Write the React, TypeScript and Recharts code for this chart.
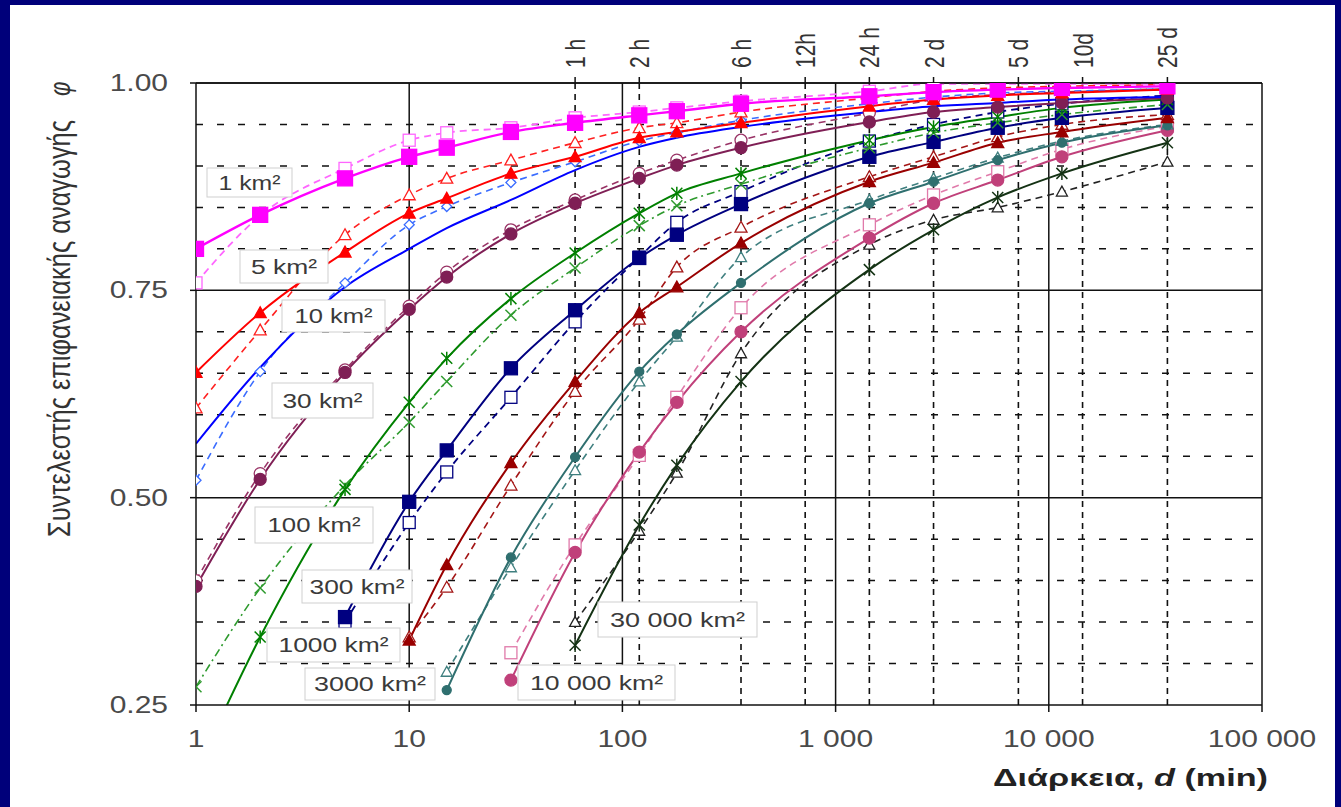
import React from "react";
import { LineChart, Line, XAxis, YAxis, ReferenceLine } from "recharts";

// durations (min) at which the curves are sampled
const DURATIONS = [1, 2, 5, 10, 15, 30, 60, 120, 180, 360, 1440, 2880, 5760, 11520, 36000];

// areal reduction factor phi — solid curves (filled markers) and dashed curves (open markers)
const A1       = [0.800, 0.841, 0.885, 0.911, 0.922, 0.941, 0.952, 0.961, 0.966, 0.975, 0.984, 0.989, 0.992, 0.994, 0.996];
const A1_D     = [0.759, 0.840, 0.897, 0.931, 0.940, 0.946, 0.958, 0.965, 0.970, 0.978, 0.990, 0.999, 0.999, 0.999, 0.999];
const A5       = [0.651, 0.723, 0.796, 0.843, 0.861, 0.891, 0.911, 0.934, 0.941, 0.952, 0.972, 0.980, 0.985, 0.988, 0.992];
const A5_D     = [0.608, 0.702, 0.817, 0.865, 0.885, 0.907, 0.928, 0.946, 0.952, 0.965, 0.982, 0.990, 0.994, 0.996, 0.998];
const A10      = [0.565, 0.657, 0.754, 0.800, 0.825, 0.859, 0.895, 0.923, 0.934, 0.947, 0.965, 0.972, 0.976, 0.980, 0.983];
const A10_D    = [0.521, 0.652, 0.759, 0.829, 0.851, 0.880, 0.905, 0.930, 0.940, 0.955, 0.975, 0.983, 0.988, 0.990, 0.993];
const A30      = [0.393, 0.522, 0.651, 0.727, 0.766, 0.818, 0.855, 0.885, 0.901, 0.922, 0.953, 0.965, 0.971, 0.976, 0.982];
const A30_D    = [0.400, 0.529, 0.654, 0.731, 0.772, 0.823, 0.859, 0.891, 0.907, 0.931, 0.964, 0.980, 0.986, 0.989, 0.993];
const A100     = [0.170, 0.332, 0.510, 0.615, 0.668, 0.740, 0.795, 0.843, 0.867, 0.891, 0.931, 0.947, 0.959, 0.970, 0.980];
const A100_D   = [0.272, 0.391, 0.515, 0.591, 0.640, 0.720, 0.777, 0.828, 0.852, 0.878, 0.922, 0.940, 0.952, 0.962, 0.974];
const A300     = [null, null, 0.356, 0.495, 0.557, 0.656, 0.726, 0.789, 0.817, 0.854, 0.911, 0.929, 0.946, 0.958, 0.970];
const A300_D   = [null, null, 0.350, 0.470, 0.531, 0.621, 0.712, 0.790, 0.832, 0.869, 0.930, 0.950, 0.965, 0.975, 0.985];
const A1000    = [null, null, null, 0.328, 0.419, 0.542, 0.640, 0.723, 0.754, 0.807, 0.881, 0.904, 0.928, 0.941, 0.958];
const A1000_D  = [null, null, null, 0.332, 0.392, 0.515, 0.628, 0.715, 0.778, 0.826, 0.887, 0.911, 0.935, 0.950, 0.962];
const A3000    = [null, null, null, null, 0.268, 0.428, 0.549, 0.652, 0.697, 0.759, 0.855, 0.881, 0.907, 0.928, 0.949];
const A3000_D  = [null, null, null, null, 0.290, 0.416, 0.533, 0.640, 0.694, 0.790, 0.859, 0.885, 0.910, 0.930, 0.950];
const A10000   = [null, null, null, null, null, 0.280, 0.434, 0.555, 0.615, 0.700, 0.813, 0.855, 0.883, 0.911, 0.943];
const A10000_D = [null, null, null, null, null, 0.313, 0.443, 0.551, 0.621, 0.729, 0.829, 0.865, 0.893, 0.920, 0.948];
const A30000   = [null, null, null, null, null, null, 0.322, 0.467, 0.539, 0.640, 0.775, 0.823, 0.862, 0.891, 0.928];
const A30000_D = [null, null, null, null, null, null, 0.350, 0.460, 0.530, 0.674, 0.805, 0.835, 0.850, 0.869, 0.905];

// axes
const X_TICKS = [1, 10, 100, 1000, 10000, 100000];
const X_TICK_LABELS = ["1", "10", "100", "1 000", "10 000", "100 000"];
const Y_TICKS = [0.25, 0.5, 0.75, 1.0];
const Y_TICK_LABELS = ["0.25", "0.50", "0.75", "1.00"];
const Y_MINOR = [0.3, 0.35, 0.4, 0.45, 0.55, 0.6, 0.65, 0.7, 0.8, 0.85, 0.9, 0.95];
const X_MAJOR = [10, 100, 1000, 10000, 100000];
const TIME_MARKS = [60, 120, 360, 720, 1440, 2880, 7200, 14400, 36000];
const TIME_LABELS = ["1 h", "2 h", "6 h", "12h", "24 h", "2 d", "5 d", "10d", "25 d"];

const AREA_LABELS = ["1 km²", "5 km²", "10 km²", "30 km²", "100 km²", "300 km²", "1000 km²", "3000 km²", "10 000 km²", "30 000 km²"];

// label box layout in page pixels: x, y, w, h, text width
const LABEL_BOXES = [
  [207, 168, 85, 29, 62],
  [240, 250, 88, 33, 66],
  [282, 300, 103, 32, 78],
  [272, 383, 101, 35, 80],
  [255, 507, 118, 36, 93],
  [302, 570, 110, 33, 95],
  [267, 628, 133, 34, 110],
  [305, 668, 130, 32, 112],
  [518, 665, 157, 35, 133],
  [598, 602, 159, 35, 135],
];

const W = 1341;
const H = 807;
const PLOT = { left: 196, top: 83, right: 1262, bottom: 705 };
const FONT = "'Liberation Sans', Arial, sans-serif";

type Shape = "square" | "triangle" | "diamond" | "circle" | "cross" | "star" | "none";

interface SeriesDef {
  key: string;
  values: (number | null)[];
  color: string;
  dash?: string;
  shape: Shape;
  filled: boolean;
  size: number;
  width: number;
}

const SERIES: SeriesDef[] = [
  { key: "a30000d", values: A30000_D, color: "#222222", dash: "7 5", shape: "triangle", filled: false, size: 11, width: 1.6 },
  { key: "a30000",  values: A30000,   color: "#143214", shape: "star", filled: true, size: 11, width: 2 },
  { key: "a10000d", values: A10000_D, color: "#e07aaa", dash: "7 5", shape: "square", filled: false, size: 12, width: 1.6 },
  { key: "a10000",  values: A10000,   color: "#c0407a", shape: "circle", filled: true, size: 12, width: 2 },
  { key: "a3000d",  values: A3000_D,  color: "#3f7f7f", dash: "7 5", shape: "triangle", filled: false, size: 11, width: 1.6 },
  { key: "a3000",   values: A3000,    color: "#2f6f6f", shape: "circle", filled: true, size: 9, width: 2 },
  { key: "a1000d",  values: A1000_D,  color: "#a31515", dash: "7 5", shape: "triangle", filled: false, size: 12, width: 1.6 },
  { key: "a1000",   values: A1000,    color: "#990000", shape: "triangle", filled: true, size: 12, width: 2 },
  { key: "a300d",   values: A300_D,   color: "#000080", dash: "7 5", shape: "square", filled: false, size: 12, width: 1.8 },
  { key: "a300",    values: A300,     color: "#000080", shape: "square", filled: true, size: 13, width: 2 },
  { key: "a100d",   values: A100_D,   color: "#2e9a2e", dash: "8 4 2 4", shape: "cross", filled: false, size: 11, width: 1.6 },
  { key: "a100",    values: A100,     color: "#008000", shape: "star", filled: true, size: 11, width: 2 },
  { key: "a30d",    values: A30_D,    color: "#993366", dash: "7 5", shape: "circle", filled: false, size: 12, width: 1.6 },
  { key: "a30",     values: A30,      color: "#7f1f55", shape: "circle", filled: true, size: 12, width: 2 },
  { key: "a10d",    values: A10_D,    color: "#3a6cff", dash: "7 5", shape: "diamond", filled: false, size: 10, width: 1.6 },
  { key: "a10",     values: A10,      color: "#0000ff", shape: "none", filled: true, size: 0, width: 2 },
  { key: "a5d",     values: A5_D,     color: "#ff2020", dash: "7 5", shape: "triangle", filled: false, size: 12, width: 1.6 },
  { key: "a5",      values: A5,       color: "#ff0000", shape: "triangle", filled: true, size: 12, width: 2 },
  { key: "a1d",     values: A1_D,     color: "#ff66ff", dash: "7 5", shape: "square", filled: false, size: 12, width: 1.8 },
  { key: "a1",      values: A1,       color: "#ff00ff", shape: "square", filled: true, size: 15, width: 2.4 },
];

const DATA = DURATIONS.map((d, i) => {
  const row: Record<string, number | null> = { d };
  SERIES.forEach((s) => { row[s.key] = s.values[i]; });
  return row;
});

function makeDot(s: SeriesDef) {
  return (props: any) => {
    const { cx, cy, value, index } = props;
    const key = props.key ?? `dot-${s.key}-${index}`;
    if (s.shape === "none" || cx == null || cy == null || value == null || Number.isNaN(cy)) {
      return <g key={key} />;
    }
    const h = s.size / 2;
    const fill = s.filled ? s.color : "#ffffff";
    const common = { stroke: s.color, strokeWidth: 1.3, fill };
    switch (s.shape) {
      case "square":
        return <rect key={key} x={cx - h} y={cy - h} width={s.size} height={s.size} {...common} />;
      case "triangle":
        return <polygon key={key} points={`${cx},${cy - h} ${cx + h},${cy + h * 0.8} ${cx - h},${cy + h * 0.8}`} {...common} />;
      case "diamond":
        return <polygon key={key} points={`${cx},${cy - h} ${cx + h},${cy} ${cx},${cy + h} ${cx - h},${cy}`} {...common} />;
      case "circle":
        return <circle key={key} cx={cx} cy={cy} r={h} {...common} />;
      case "cross":
        return (
          <g key={key} stroke={s.color} strokeWidth={1.5}>
            <line x1={cx - h} y1={cy - h} x2={cx + h} y2={cy + h} />
            <line x1={cx - h} y1={cy + h} x2={cx + h} y2={cy - h} />
          </g>
        );
      case "star":
        return (
          <g key={key} stroke={s.color} strokeWidth={1.5}>
            <line x1={cx - h} y1={cy - h} x2={cx + h} y2={cy + h} />
            <line x1={cx - h} y1={cy + h} x2={cx + h} y2={cy - h} />
            <line x1={cx} y1={cy - h * 1.2} x2={cx} y2={cy + h * 1.2} />
          </g>
        );
      default:
        return <g key={key} />;
    }
  };
}

function BottomTick(props: any) {
  const { x, y, payload } = props;
  const i = X_TICKS.indexOf(payload.value);
  return (
    <text transform={`translate(${x},${y + 33}) scale(1.25,1)`} textAnchor="middle"
      fontSize={24} fontFamily={FONT} fill="#4a4a4a">
      {X_TICK_LABELS[i]}
    </text>
  );
}

function LeftTick(props: any) {
  const { x, y, payload } = props;
  const i = Y_TICKS.indexOf(payload.value);
  return (
    <text transform={`translate(${x - 20},${y + 8}) scale(1.25,1)`} textAnchor="end"
      fontSize={24} fontFamily={FONT} fill="#4a4a4a">
      {Y_TICK_LABELS[i]}
    </text>
  );
}

function TopTick(props: any) {
  const { x, payload } = props;
  const i = TIME_MARKS.indexOf(payload.value);
  return (
    <text transform={`translate(${x + 10},68) scale(1.35,1) rotate(-90)`} textAnchor="start"
      fontSize={21} fontFamily={FONT} fill="#333">
      {TIME_LABELS[i]}
    </text>
  );
}

export default function App() {
  return (
    <div style={{ position: "absolute", left: 0, top: 0, width: W, height: H, background: "#00007a" }}>
      <div style={{ position: "absolute", left: 10, top: 5, width: W - 16, height: H - 5, background: "#fff" }} />

      <div style={{ position: "absolute", left: 0, top: 0 }}>
        <LineChart
          width={W}
          height={H}
          data={DATA}
          margin={{ top: PLOT.top - 40, right: W - PLOT.right, bottom: H - PLOT.bottom - 40, left: PLOT.left - 100 }}
        >
          <XAxis
            dataKey="d" type="number" scale="log" domain={[1, 100000]} ticks={X_TICKS}
            allowDataOverflow interval={0} height={40} tickSize={7}
            axisLine={{ stroke: "#111", strokeWidth: 1.5 }} tickLine={{ stroke: "#111", strokeWidth: 1.5 }}
            tick={BottomTick}
          />
          <XAxis
            xAxisId="top" dataKey="d" orientation="top" type="number" scale="log" domain={[1, 100000]} ticks={TIME_MARKS}
            allowDataOverflow interval={0} height={40} tickSize={6}
            axisLine={{ stroke: "#111", strokeWidth: 1.5 }} tickLine={{ stroke: "#111", strokeWidth: 1.5 }}
            tick={TopTick}
          />
          <YAxis
            type="number" domain={[0.25, 1]} ticks={Y_TICKS} allowDataOverflow interval={0} width={100} tickSize={6}
            axisLine={{ stroke: "#111", strokeWidth: 1.5 }} tickLine={{ stroke: "#111", strokeWidth: 1.5 }}
            tick={LeftTick}
          />

          {Y_MINOR.map((v) => (
            <ReferenceLine key={`ym${v}`} y={v} stroke="#111" strokeWidth={1.5} strokeDasharray="7 14" />
          ))}
          {TIME_MARKS.map((v) => (
            <ReferenceLine key={`xt${v}`} x={v} stroke="#111" strokeWidth={1.6} strokeDasharray="6 5" />
          ))}
          {Y_TICKS.slice(1).map((v) => (
            <ReferenceLine key={`yM${v}`} y={v} stroke="#111" strokeWidth={1.5} />
          ))}
          {X_MAJOR.map((v) => (
            <ReferenceLine key={`xM${v}`} x={v} stroke="#111" strokeWidth={1.5} />
          ))}

          {/* invisible series so the top duration axis is bound to data */}
          <Line xAxisId="top" dataKey="a1" stroke="transparent" dot={false} activeDot={false} isAnimationActive={false} />

          {SERIES.map((s) => (
            <Line
              key={s.key}
              dataKey={s.key}
              type="monotone"
              stroke={s.color}
              strokeWidth={s.width}
              strokeDasharray={s.dash}
              dot={makeDot(s)}
              activeDot={false}
              isAnimationActive={false}
            />
          ))}
        </LineChart>
      </div>

      <svg width={W} height={H} style={{ position: "absolute", left: 0, top: 0, pointerEvents: "none" }}>
        {LABEL_BOXES.map(([x, y, w, h, tw], i) => (
          <g key={AREA_LABELS[i]}>
            <rect x={x} y={y} width={w} height={h} fill="#fff" stroke="#cfcfcf" strokeWidth={1} />
            <text x={x + w / 2} y={y + h / 2 + 7} textAnchor="middle" fontSize={20} fontFamily={FONT}
              fill="#3a3a3a" textLength={tw} lengthAdjust="spacingAndGlyphs">
              {AREA_LABELS[i]}
            </text>
          </g>
        ))}

        <text transform="translate(70,537) scale(1.3,1) rotate(-90)" fontSize={24} fontFamily={FONT}
          fill="#333" textLength={417} lengthAdjust="spacingAndGlyphs">
          Συντελεστής επιφανειακής αναγωγής
        </text>
        <text transform="translate(70,96) scale(1.3,1) rotate(-90)" fontSize={22} fontFamily={FONT}
          fill="#333" fontStyle="italic">
          φ
        </text>

        <text x={1268} y={786} textAnchor="end" fontSize={24} fontWeight="bold" fontFamily={FONT}
          fill="#222" textLength={275} lengthAdjust="spacingAndGlyphs">
          Διάρκεια, <tspan fontStyle="italic">d</tspan> (min)
        </text>
      </svg>
    </div>
  );
}
